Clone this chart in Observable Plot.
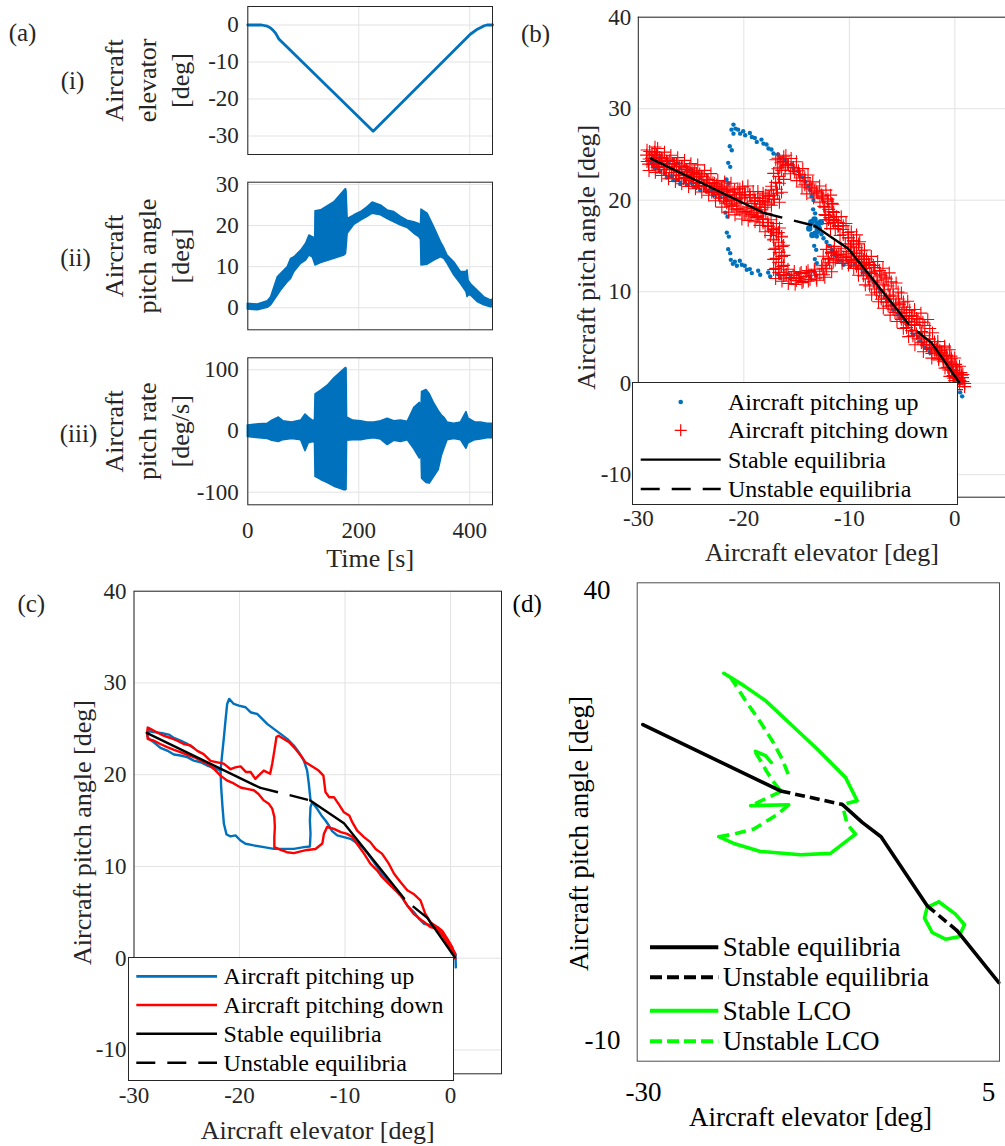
<!DOCTYPE html>
<html><head><meta charset="utf-8">
<script src="https://cdn.jsdelivr.net/npm/d3@7"></script>
<script src="https://cdn.jsdelivr.net/npm/@observablehq/plot@0.6"></script>
<style>
body{margin:0;background:#fff;}
#fig{position:relative;width:1005px;height:1146px;overflow:hidden;background:#fff;}
#fig svg text{font-family:'Liberation Serif','Times New Roman',serif;}
</style></head><body><div id="fig"></div><script>
// ---------------- data ----------------
const timeTicks = [0, 200, 400];
const elevTicks = [-30, -20, -10, 0];
const pitchTicksA = [0, 10, 20, 30];
const rateTicks = [-100, 0, 100];
const elevatorTicks = [-30, -20, -10, 0];
const pitchTicks = [-10, 0, 10, 20, 30, 40];
const modelTicksX = [-30, 5];

// (a)(i) elevator time history
const elevTime = [0, 25, 35, 41, 46, 50, 56, 226, 401, 412, 420, 426, 431, 441];
const elevDeg  = [0, 0, -0.3, -0.8, -1.5, -2.2, -3.8, -28.7, -2.5, -1.3, -0.7, -0.2, 0, 0];

// (a)(ii) pitch angle envelope
const pitchTime = [0,18,36,42,54,60,72,78,84,96,105,111,117,120,121.5,122,132,156,174,177,178,180,192,204,216,225,240,252,264,276,288,300,309,312,313,324,336,348,354,360,372,384,394,396,398,402,414,426,438,441];
const pitchLow  = [-0.4,-0.6,0.0,0.6,3.0,4.2,6.2,7.0,8.7,10.7,11.5,12.7,12.3,11.1,10.5,10.3,10.9,11.9,12.7,13.1,14.5,18.0,20.2,21.2,22.1,22.9,22.5,21.6,20.8,20.0,19.4,18.0,17.2,16.5,10.3,10.5,11.5,12.3,11.9,10.7,7.9,5.8,3.8,2.6,3.0,3.0,1.4,0.6,0.1,0.2];
const pitchHigh = [1.0,0.8,1.6,2.6,7.45,8.3,9.9,11.9,12.3,13.9,15.6,17.6,17.2,17.0,17.0,23.5,23.7,25.7,28.5,28.9,28.3,21.6,22.5,23.3,24.5,25.6,24.9,23.7,23.3,22.1,21.2,20.8,20.4,20.0,23.9,22.9,19.6,16.0,14.5,12.7,11.1,8.7,8.7,9.1,6.6,5.8,4.2,2.6,1.8,2.0];

// (a)(iii) pitch rate envelope
const rateTime = [0,20,36,44,56,64,80,96,104,110,118,121,122,132,144,156,168,174,177,178,179,190,204,216,228,240,252,264,276,288,300,310,313,314,322,328,336,344,350,354,360,372,384,394,398,410,420,432,441];
const rateLow  = [-10,-12,-13,-16,-18,-15,-13,-15,-33,-20,-18,-20,-75,-80,-85,-91,-95,-97,-97,-96,-16,-15,-15,-13,-12,-14,-23,-16,-18,-15,-30,-45,-40,-78,-85,-86,-75,-64,-40,-30,-15,-13,-15,-29,-20,-15,-14,-12,-12];
const rateHigh = [9,11,12,17,22,16,14,17,27,22,16,18,60,66,74,86,96,101,103,102,22,17,16,14,14,16,20,16,17,15,38,46,40,64,67,60,45,33,25,22,14,12,14,31,20,14,14,12,12];

// (b),(c) measured response: [elevator, pitch]
const pitchingUpMain = [[0.5,-1.0],[0.47,0.49],[0.0,1.22],[-0.47,2.12],[-1.11,2.96],[-1.74,3.58],[-2.53,3.76],[-3.0,4.3],[-3.48,5.03],[-4.11,5.75],[-4.74,6.84],[-5.37,7.57],[-6.0,8.48],[-6.63,9.38],[-7.27,10.47],[-7.84,11.38],[-8.37,12.11],[-8.85,12.54],[-9.48,13.01],[-10.11,13.19],[-10.74,13.38],[-11.22,13.85],[-11.53,14.46],[-11.85,15.01],[-12.16,15.44],[-12.64,16.28],[-13.11,17.0],
[-13.27,16.46],[-13.33,15.01],[-13.27,13.56],[-13.33,12.18],
[-13.9,12.1],[-14.85,11.92],[-15.8,11.92],[-16.75,11.92],[-17.69,12.1],[-18.64,12.29],[-19.43,12.47],[-19.91,12.83],[-20.38,13.38],[-20.85,13.27],[-21.23,13.48],
[-21.48,14.65],[-21.61,16.46],[-21.74,18.64],[-21.8,20.45],[-21.64,22.27],[-21.48,24.08],[-21.33,25.9],[-21.17,27.71],[-20.98,28.26],
[-20.54,27.71],[-20.06,27.53],[-19.43,27.35],[-18.96,26.81],[-18.33,26.62],[-17.85,26.08],[-17.38,25.54],[-16.75,24.99],[-16.11,24.45],[-15.48,23.9],[-14.85,23.18],[-14.38,22.45],[-13.9,21.54],[-13.59,20.45],[-13.43,19.0],[-13.27,17.19]];
const pitchingUpBand = [[-21.8,20.45],[-22.43,20.74],[-23.06,21.0],[-23.7,21.36],[-24.33,21.54],[-24.96,21.91],[-25.59,22.09],[-26.22,22.2],[-26.86,22.63],[-27.49,22.92],[-28.12,23.54],[-28.59,23.9],[-28.75,24.27],[-28.59,24.74],[-27.96,24.63],[-27.33,24.52],[-26.7,24.37],[-26.22,24.01],[-25.59,23.72],[-24.96,23.36],[-24.33,22.92]];
const pitchingDown = [[0.47,0.3],[0.16,1.2],[-0.3,2.1],[-0.8,3.0],[-1.25,3.4],[-1.9,3.9],[-2.4,4.85],[-2.85,6.3],[-3.5,7.0],[-4.1,7.4],[-4.75,8.3],[-5.35,9.2],[-5.85,10.3],[-6.5,11.4],[-7.1,11.9],[-7.6,12.65],[-8.2,13.2],[-8.85,13.9],[-9.3,14.8],[-9.6,15.55],[-10.1,15.9],[-10.6,16.8],[-11.05,17.55],[-11.5,17.55],[-11.85,18.1],[-11.95,19.0],[-12.05,19.9],[-12.5,20.45],[-13.1,20.9],[-13.75,21.35],[-14.2,22.1],[-14.7,22.8],[-15.3,23.55],[-15.8,23.9],[-16.3,24.25],[-16.5,24.1],[-16.7,22.6],[-16.9,21.2],[-17.1,20.1],[-17.7,20.45],[-18.2,19.9],[-18.5,19.55],[-18.95,20.3],[-19.4,20.3],[-19.9,20.9],[-20.4,20.8],[-20.85,20.6],[-21.5,21.2],[-22.1,21.35],[-22.75,21.5],[-23.4,22.25],[-24.0,22.6],[-24.65,23.2],[-25.3,23.35],[-25.9,23.7],[-26.55,24.0],[-27.2,24.25],[-27.8,24.6],[-28.45,25.0],[-28.7,25.15],[-28.75,24.6],[-28.7,23.9],[-28.1,23.7],[-27.5,23.35],[-26.85,23.0],[-26.2,22.7],[-25.6,22.45],[-24.95,22.15],[-24.3,21.9],[-23.7,21.55],[-23.05,21.2],[-22.4,20.6],[-21.8,19.9],[-21.15,19.35],[-20.55,19.05],[-19.9,18.6],[-19.3,18.45],[-18.65,18.3],[-18.2,17.9],[-17.7,17.2],[-17.2,16.8],[-16.9,16.3],[-16.7,15.4],[-16.65,14.3],[-16.7,13.2],[-16.7,12.1],[-16.1,11.8],[-15.5,11.55],[-14.85,11.45],[-14.2,11.65],[-13.6,11.8],[-12.8,11.9],[-12.15,12.5],[-12.0,13.55],[-11.7,14.3],[-11.05,14.1],[-10.4,13.75],[-9.8,13.55],[-9.3,13.2],[-8.85,12.45],[-8.2,11.4],[-7.6,10.3],[-6.95,9.55],[-6.5,8.85],[-5.85,8.1],[-5.2,7.4],[-4.6,6.65],[-4.1,5.75],[-3.5,4.85],[-2.7,4.1],[-1.9,3.4],[-1.25,3.2],[-0.65,2.3],[-0.2,1.4],[0.3,0.5],[0.45,-0.05]];
// blue cluster at the fold in (b)
const pitchingUpFold = [[-13.6,17.6],[-13.3,17.9],[-13.0,17.4],[-13.8,16.9],[-13.2,16.3],[-12.9,16.9],[-13.5,16.2],[-12.7,17.6]];

// (b),(c) equilibria (segments)
const eqStable = [[[-28.8,24.55],[-18.1,18.6]], [[-13.3,17.2],[-10.1,14.7],[-4.4,6.5]], [[-3.5,5.6],[-2.2,4.4],[0.4,0.1]]];
const eqUnstable = [[[-18.1,18.6],[-13.3,17.2]], [[-4.4,6.5],[-3.5,5.6]]];

// (d) model
const modelStable = [[[-30.07,25.08],[-16.1,17.7]], [[-9.84,16.2],[-7.81,14.2],[-5.9,12.6],[-1.22,4.92]], [[1.83,2.14],[6.05,-3.62]]];
const modelUnstable = [[[-16.1,17.7],[-9.84,16.2]], [[-1.22,4.92],[1.83,2.14]]];
const lcoStable = [
  [[-21.85,30.79],[-19.82,29.42],[-17.62,27.75],[-15.09,25.15],[-12.38,22.37],[-9.51,19.21],[-8.32,16.61]],
  [[-8.49,12.9],[-11.03,10.75],[-14.07,10.6],[-18.13,10.97],[-20.84,11.86],[-22.36,12.61]],
  [[-19.14,16.06],[-15.26,16.17]],
  [[-18.64,22.11],[-17.62,21.63],[-17.05,20.88]],
  [[-0.04,5.37],[1.65,4.0],[2.57,2.81],[1.99,1.47],[0.64,1.21],[-0.71,1.95],[-1.49,3.55],[-1.22,4.74],[-0.04,5.37]]
];
const lcoUnstable = [
  [[-21.17,30.35],[-19.65,27.75],[-18.13,25.34],[-16.95,23.3],[-15.93,21.25],[-15.26,19.4]],
  [[-18.64,22.0],[-18.13,21.07],[-17.45,19.77],[-16.78,18.66],[-16.1,17.73]],
  [[-16.1,17.62],[-17.45,16.91],[-19.14,16.06]],
  [[-15.26,16.17],[-16.44,15.06],[-18.81,13.46],[-20.84,12.9],[-22.36,12.61]],
  [[-8.32,16.61],[-9.84,16.17]],
  [[-9.68,15.5],[-9.34,14.02],[-8.49,12.9]]
];

// ---------------- helpers ----------------
const blue = "#0072BD", red = "#FF0000", green = "#00FF00";
const gridCol = "#E3E3E3", axisCol = "#262626";
const serif = "'Liberation Serif','Times New Roman',serif";
const fmt = d => String(d);
const styleStr = fs => `font-family:${serif};font-size:${fs}px;color:${axisCol};background:transparent;overflow:visible;`;
const lab = {textAnchor: "middle", lineAnchor: "middle", fill: axisCol, fontFamily: serif};
const fig = document.getElementById("fig");
function place(node, left, top, w, h) {
  const d = document.createElement("div");
  d.style.cssText = `position:absolute;left:${left}px;top:${top}px;width:${w}px;height:${h}px;`;
  d.appendChild(node); fig.appendChild(d);
}
const pairs = (arr, k = 0) => arr.map(([e, p]) => ({e, p, k}));
const segs = list => list.flatMap((s, k) => pairs(s, k));
const series = (t, v) => t.map((x, i) => ({t: x, v: v[i]}));
const band = (t, lo, hi) => t.map((x, i) => ({t: x, lo: lo[i], hi: hi[i]}));
const grids = (xt, yt) => [Plot.gridX(xt, {stroke: gridCol, strokeOpacity: 1}), Plot.gridY(yt, {stroke: gridCol, strokeOpacity: 1})];
const ax = {tickSize: 0, tickFormat: fmt, fontSize: 23, label: null, fontFamily: serif};

// ---------------- (a)(i) ----------------
place(Plot.plot({
  width: 500, height: 160, marginLeft: 247.3, marginRight: 8, marginTop: 6, marginBottom: 6,
  style: styleStr(23),
  x: {domain: [0, 441], axis: null}, y: {domain: [-35, 5], axis: null},
  marks: [
    ...grids(timeTicks, elevTicks),
    Plot.line(series(elevTime, elevDeg), {x: "t", y: "v", stroke: blue, strokeWidth: 2.8}),
    Plot.frame({stroke: axisCol}),
    Plot.axisY(elevTicks, {...ax, tickPadding: 9}),
    Plot.text(["Aircraft\nelevator\n[deg]"], {...lab, frameAnchor: "left", dx: -102.3, rotate: -90, lineHeight: 1.27, fontSize: 26}),
    Plot.text(["(i)"], {...lab, frameAnchor: "left", dx: -175.3, fontSize: 25}),
    Plot.text(["(a)"], {...lab, frameAnchor: "top-left", dx: -225.3, dy: 26, fontSize: 25})
  ]
}), 0, 0, 500, 160);

// ---------------- (a)(ii) ----------------
place(Plot.plot({
  width: 500, height: 170, marginLeft: 247.3, marginRight: 8, marginTop: 11.7, marginBottom: 10.7,
  style: styleStr(23),
  x: {domain: [0, 441], axis: null}, y: {domain: [-5.35, 30.55], axis: null},
  marks: [
    ...grids(timeTicks, pitchTicksA),
    Plot.areaY(band(pitchTime, pitchLow, pitchHigh), {x: "t", y1: "lo", y2: "hi", fill: blue, stroke: blue, strokeWidth: 1.5}),
    Plot.frame({stroke: axisCol}),
    Plot.axisY(pitchTicksA, {...ax, tickPadding: 9}),
    Plot.text(["Aircraft\npitch angle\n[deg]"], {...lab, frameAnchor: "left", dx: -102.3, rotate: -90, lineHeight: 1.27, fontSize: 26}),
    Plot.text(["(ii)"], {...lab, frameAnchor: "left", dx: -172.3, dy: 1.5, fontSize: 25})
  ]
}), 0, 170, 500, 170);

// ---------------- (a)(iii) ----------------
place(Plot.plot({
  width: 500, height: 240, marginLeft: 247.3, marginRight: 8, marginTop: 17.3, marginBottom: 75.7,
  style: styleStr(23),
  x: {domain: [0, 441], axis: null}, y: {domain: [-120.6, 119.6], axis: null},
  marks: [
    ...grids(timeTicks, rateTicks),
    Plot.areaY(band(rateTime, rateLow, rateHigh), {x: "t", y1: "lo", y2: "hi", fill: blue, stroke: blue, strokeWidth: 1.5}),
    Plot.frame({stroke: axisCol}),
    Plot.axisY(rateTicks, {...ax, tickPadding: 9}),
    Plot.axisX(timeTicks, {...ax, tickPadding: 17}),
    Plot.text(["Time [s]"], {...lab, frameAnchor: "bottom", dy: 53.7, fontSize: 26}),
    Plot.text(["Aircraft\npitch rate\n[deg/s]"], {...lab, frameAnchor: "left", dx: -102.3, rotate: -90, lineHeight: 1.27, fontSize: 26}),
    Plot.text(["(iii)"], {...lab, frameAnchor: "left", dx: -169.3, dy: 2.2, fontSize: 25})
  ]
}), 0, 340, 500, 240);

// ---------------- (b) ----------------
const upAll = [...pairs(pitchingUpMain, 0), ...pairs(pitchingUpBand, 1)];
const downAll = pairs(pitchingDown);
const eqS = segs(eqStable), eqU = segs(eqUnstable);
const bBottom = -12.46;
// the raw samples scatter around the filtered path: repeat the markers with small screen offsets
const spread = [[0, 0], [3, -6], [-3, 6], [5, 3], [-5, -3]];
place(Plot.plot({
  width: 495, height: 570, marginLeft: 127.8, marginRight: 0, marginTop: 16.7, marginBottom: 73.3,
  style: styleStr(23),
  x: {domain: [-30, 4.8], axis: null}, y: {domain: [bBottom, 40], axis: null},
  marks: [
    ...grids(elevatorTicks, pitchTicks),
    Plot.dot(upAll, {x: "e", y: "p", r: 2.2, fill: blue, stroke: null}),
    Plot.dot(upAll, {x: "e", y: "p", r: 2.2, fill: blue, stroke: null, dx: 2, dy: 4}),
    ...spread.map(([dx, dy]) => Plot.dot(downAll, {x: "e", y: "p", symbol: "plus", r: 4.2, stroke: red, strokeWidth: 1.1, dx, dy})),
    Plot.dot(pairs(pitchingUpFold), {x: "e", y: "p", r: 3.2, fill: blue, stroke: null}),
    Plot.line(eqS, {x: "e", y: "p", z: "k", stroke: "black", strokeWidth: 2.4}),
    Plot.line(eqU.filter(d => d.k === 0), {x: "e", y: "p", stroke: "black", strokeWidth: 2.4, strokeDasharray: "19,12", strokeLinecap: "butt"}),
    Plot.line(eqU.filter(d => d.k === 1), {x: "e", y: "p", stroke: "black", strokeWidth: 2.4, strokeDasharray: "19,12", strokeDashoffset: 19, strokeLinecap: "butt"}),
    Plot.ruleX([-30], {stroke: axisCol}),
    Plot.ruleY([40], {stroke: axisCol}),
    Plot.ruleY([bBottom], {stroke: axisCol}),
    Plot.axisX(elevatorTicks, {...ax, tickPadding: 12.6}),
    Plot.axisY(pitchTicks, {...ax, tickPadding: 7}),
    Plot.text(["Aircraft elevator [deg]"], {...lab, frameAnchor: "bottom", dy: 55.3, fontSize: 26}),
    Plot.text(["Aircraft pitch angle [deg]"], {...lab, frameAnchor: "left", dx: -51.3, rotate: -90, fontSize: 26}),
    Plot.text(["(b)"], {...lab, frameAnchor: "top-left", dx: -102.8, dy: 16.3, fontSize: 25})
  ]
}), 510, 0, 495, 570);

// ---------------- (c) ----------------
const cBottom = -12.6;
place(Plot.plot({
  width: 505, height: 576, marginLeft: 133.5, marginRight: 4, marginTop: 20.7, marginBottom: 72.7,
  style: styleStr(23),
  x: {domain: [-30, 4.83], axis: null}, y: {domain: [cBottom, 40], axis: null},
  marks: [
    ...grids(elevatorTicks, pitchTicks),
    Plot.line(upAll, {x: "e", y: "p", z: "k", stroke: blue, strokeWidth: 2.4}),
    Plot.line(downAll, {x: "e", y: "p", stroke: red, strokeWidth: 2.4}),
    Plot.line(eqS, {x: "e", y: "p", z: "k", stroke: "black", strokeWidth: 2.4}),
    Plot.line(eqU.filter(d => d.k === 0), {x: "e", y: "p", stroke: "black", strokeWidth: 2.4, strokeDasharray: "19,12", strokeLinecap: "butt"}),
    Plot.line(eqU.filter(d => d.k === 1), {x: "e", y: "p", stroke: "black", strokeWidth: 2.4, strokeDasharray: "19,12", strokeDashoffset: 19, strokeLinecap: "butt"}),
    Plot.frame({stroke: axisCol}),
    Plot.axisX(elevatorTicks, {...ax, tickPadding: 13}),
    Plot.axisY(pitchTicks, {...ax, tickPadding: 7.5}),
    Plot.text(["Aircraft elevator [deg]"], {...lab, frameAnchor: "bottom", dy: 56.7, fontSize: 26}),
    Plot.text(["Aircraft pitch angle [deg]"], {...lab, frameAnchor: "left", dx: -51.5, rotate: -90, fontSize: 26}),
    Plot.text(["(c)"], {...lab, frameAnchor: "top-left", dx: -102.7, dy: 12.6, fontSize: 25})
  ]
}), 0, 570, 505, 576);

// ---------------- (d) ----------------
const toXY = list => list.flatMap((s, k) => s.map(([x, y]) => ({x, y, k})));
place(Plot.plot({
  width: 495, height: 576, marginLeft: 126.7, marginRight: 6, marginTop: 12.3, marginBottom: 85.3,
  style: styleStr(27),
  x: {domain: [-30.64, 6.12], axis: null}, y: {domain: [-12.37, 40.86], axis: null},
  marks: [
    Plot.line(toXY(lcoStable), {x: "x", y: "y", z: "k", stroke: green, strokeWidth: 3.6}),
    Plot.line(toXY(lcoUnstable), {x: "x", y: "y", z: "k", stroke: green, strokeWidth: 3.6, strokeDasharray: "11,6", strokeLinecap: "butt"}),
    Plot.line(toXY(modelStable), {x: "x", y: "y", z: "k", stroke: "black", strokeWidth: 3.6}),
    Plot.line(toXY(modelUnstable), {x: "x", y: "y", z: "k", stroke: "black", strokeWidth: 3.6, strokeDasharray: "10,5", strokeLinecap: "butt"}),
    Plot.frame({stroke: "#4d4d4d"}),
    Plot.axisX(modelTicksX, {...ax, tickPadding: 21, fontSize: 27, fill: "#000"}),
    Plot.axisY([40], {...ax, tickPadding: 26.7, fontSize: 27, fill: "#000"}),
    Plot.axisY([-10], {...ax, tickPadding: 16.7, fontSize: 27, fill: "#000"}),
    Plot.text(["Aircraft elevator [deg]"], {...lab, fill: "#000", frameAnchor: "bottom", dx: -7.9, dy: 56, fontSize: 27}),
    Plot.text(["Aircraft pitch angle [deg]"], {...lab, fill: "#000", frameAnchor: "left", dx: -58.2, dy: 11.5, rotate: -90, fontSize: 27}),
    Plot.text(["(d)"], {...lab, fill: "#000", frameAnchor: "top-left", dx: -110, dy: 21, fontSize: 25})
  ]
}), 510, 570, 495, 576);

// ---------------- legends ----------------
function legend(w, h, box, rows, fontSize, x1, x2, tx) {
  const svg = d3.create("svg").attr("width", w).attr("height", h).style("display", "block").style("overflow", "visible");
  if (box) svg.append("rect").attr("x", 0.5).attr("y", 0.5).attr("width", w - 1).attr("height", h - 1).attr("fill", "#fff").attr("stroke", axisCol);
  const cx = (x1 + x2) / 2;
  for (const r of rows) {
    const g = svg.append("g").attr("transform", `translate(0,${r.y})`);
    if (r.kind === "dot") g.append("circle").attr("cx", cx).attr("cy", 0).attr("r", 2.3).attr("fill", r.color);
    else if (r.kind === "plus") g.append("path").attr("d", `M${cx - 6},0H${cx + 6}M${cx},-6V6`).attr("stroke", r.color).attr("stroke-width", 1.2).attr("fill", "none");
    else g.append("line").attr("x1", x1).attr("x2", x2).attr("y1", 0).attr("y2", 0).attr("stroke", r.color).attr("stroke-width", r.width).attr("stroke-dasharray", r.dash || null);
    g.append("text").attr("x", tx).attr("y", 0).attr("dy", "0.33em").attr("font-family", serif).attr("font-size", fontSize).attr("fill", "#000").text(r.label);
  }
  return svg.node();
}
place(legend(326, 123, true, [
  {y: 20, kind: "dot", color: blue, label: "Aircraft pitching up"},
  {y: 48.3, kind: "plus", color: red, label: "Aircraft pitching down"},
  {y: 77.6, kind: "line", color: "#000", width: 2.4, label: "Stable equilibria"},
  {y: 107, kind: "line", color: "#000", width: 2.4, dash: "19,12", label: "Unstable equilibria"}
], 24, 8.7, 88.7, 96), 632.3, 381.7, 326, 123);
place(legend(326, 124, true, [
  {y: 19.4, kind: "line", color: blue, width: 2.6, label: "Aircraft pitching up"},
  {y: 48, kind: "line", color: red, width: 2.6, label: "Aircraft pitching down"},
  {y: 76.7, kind: "line", color: "#000", width: 2.6, label: "Stable equilibria"},
  {y: 105.7, kind: "line", color: "#000", width: 2.6, dash: "19,12", label: "Unstable equilibria"}
], 24, 8.3, 89, 95.6), 127.7, 957.3, 326, 124);
place(legend(360, 135, false, [
  {y: 22.3, kind: "line", color: "#000", width: 4, label: "Stable equilibria"},
  {y: 52.3, kind: "line", color: "#000", width: 4, dash: "12,5", label: "Unstable equilibria"},
  {y: 85.7, kind: "line", color: green, width: 4, label: "Stable LCO"},
  {y: 116.3, kind: "line", color: green, width: 4, dash: "12,5", label: "Unstable LCO"}
], 27, 10, 78.3, 82.7), 640, 925, 360, 135);
</script></body></html>
